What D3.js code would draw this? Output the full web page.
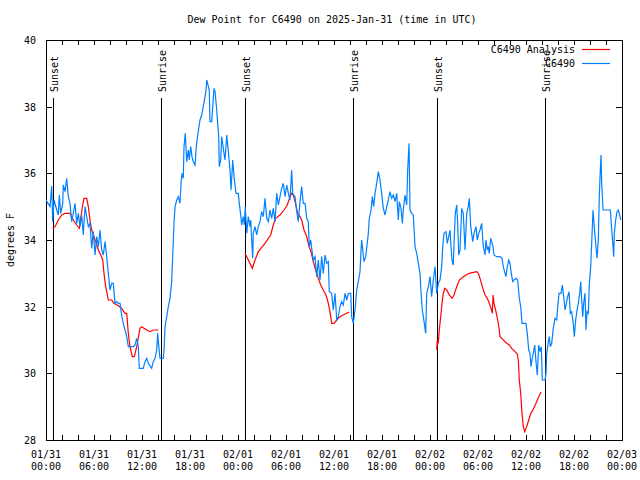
<!DOCTYPE html>
<html>
<head>
<meta charset="utf-8">
<script src="https://cdn.jsdelivr.net/npm/d3@7"></script>
<style>
  html, body { margin: 0; padding: 0; background: #fff; }
  svg { display: block; }
  text { font-family: "DejaVu Sans Mono", "Liberation Mono", monospace; font-size: 10px; fill: #000; }
</style>
</head>
<body>
<svg id="chart" width="640" height="480"></svg>
<script>
// ---- Data (hours since 2025-01-31 00:00 UTC) ----
const titleText = "Dew Point for C6490 on 2025-Jan-31 (time in UTC)";
const yLabel = "degrees F";
const seriesNames = ["C6490 Analysis", "C6490"];

const sunHours = [0.875, 14.375, 24.875, 38.375, 48.875, 62.375];
const sunLabels = ["Sunset", "Sunrise", "Sunset", "Sunrise", "Sunset", "Sunrise"];

const yTicks = [28, 30, 32, 34, 36, 38, 40];

// Station observations (C6490)
const obsHours = [0.0,0.5,0.71,0.84,1.0,1.34,1.54,1.66,1.84,2.09,2.16,2.38,2.59,2.79,3.0,3.21,3.41,3.63,3.84,4.04,4.25,4.46,4.66,4.88,5.09,5.29,5.5,5.71,5.91,6.13,6.34,6.54,6.75,6.96,7.16,7.38,7.59,7.79,8.0,8.21,8.41,8.63,8.84,9.04,9.25,9.46,9.66,10.09,10.29,10.91,11.13,11.34,11.54,11.66,11.96,12.16,12.38,12.59,12.79,13.21,13.41,13.63,13.84,13.96,14.04,14.25,14.66,14.75,14.88,15.09,15.29,15.5,15.71,15.84,16.0,16.13,16.34,16.54,16.75,16.88,17.0,17.16,17.25,17.41,17.59,17.79,17.91,18.09,18.25,18.41,18.63,18.75,18.91,19.09,19.25,19.46,19.66,19.88,20.0,20.09,20.41,20.5,20.71,20.84,21.0,21.13,21.34,21.46,21.59,21.66,21.84,21.96,22.16,22.38,22.59,22.79,23.0,23.13,23.34,23.5,23.75,24.04,24.16,24.34,24.46,24.66,24.79,24.91,25.09,25.29,25.5,25.59,25.71,25.84,25.91,26.13,26.34,26.54,26.75,26.96,27.16,27.38,27.59,27.79,28.0,28.21,28.41,28.63,28.84,29.04,29.25,29.46,29.66,29.88,30.09,30.29,30.5,30.71,30.84,31.13,31.34,31.54,31.75,31.96,32.16,32.38,32.59,32.79,32.91,33.09,33.21,33.41,33.63,33.84,34.04,34.25,34.46,34.66,34.88,35.09,35.29,35.41,35.71,35.91,36.13,36.34,36.54,36.75,36.96,37.16,37.38,37.59,37.79,38.09,38.21,38.41,38.63,38.84,39.04,39.25,39.38,39.46,39.59,39.75,39.96,40.13,40.29,40.41,40.63,40.79,40.96,41.13,41.34,41.54,41.75,41.96,42.16,42.38,42.59,42.79,43.0,43.21,43.41,43.63,43.84,44.04,44.16,44.38,44.54,44.66,44.88,45.09,45.21,45.38,45.5,45.71,45.91,46.13,46.34,46.54,46.75,46.88,47.04,47.29,47.46,47.59,47.79,48.0,48.21,48.41,48.63,48.84,49.04,49.25,49.46,49.59,49.75,50.0,50.16,50.34,50.5,50.63,50.75,50.91,51.04,51.16,51.34,51.46,51.59,51.75,51.96,52.16,52.38,52.59,52.79,52.91,53.09,53.34,53.5,53.75,53.91,54.09,54.25,54.46,54.66,54.88,55.0,55.16,55.29,55.41,55.59,55.84,56.0,56.34,56.75,57.0,57.16,57.38,57.5,57.66,57.84,58.0,58.16,58.34,58.5,58.75,58.96,59.16,59.34,59.5,60.0,60.16,60.34,60.5,60.63,60.75,60.91,61.09,61.25,61.41,61.59,61.75,61.91,62.04,62.38,62.5,62.59,62.79,62.91,63.04,63.21,63.41,63.63,63.84,63.96,64.13,64.38,64.54,64.71,64.88,65.04,65.21,65.38,65.54,65.71,65.91,66.04,66.21,66.38,66.54,66.71,66.84,66.96,67.09,67.21,67.38,67.5,67.63,67.79,67.91,68.09,68.21,68.38,68.5,68.63,68.75,68.88,69.04,69.16,69.29,69.38,69.46,69.63,70.54,70.63,70.75,70.88,70.96,71.04,71.21,71.38,71.54,71.71,71.84];
const obsDewF = [35.2,35.0,35.62,34.55,35.2,34.9,34.75,35.35,34.8,35.1,35.65,35.45,35.85,35.3,35.1,34.55,34.8,35.1,34.5,34.8,34.4,34.75,34.15,35.0,34.7,34.4,34.5,33.75,34.25,33.55,34.1,33.8,34.3,33.7,33.55,33.95,33.5,33.0,32.5,32.7,32.7,32.1,32.15,32.1,32.1,31.75,31.5,31.1,30.8,30.8,30.85,31.05,30.8,30.15,30.15,30.15,30.35,30.45,30.3,30.15,30.35,30.45,30.7,31.2,30.95,30.45,30.45,30.7,31.4,31.7,32.0,32.25,32.75,33.55,34.5,35.0,35.2,35.3,35.1,35.7,36.0,35.85,36.8,37.2,36.35,36.7,36.4,36.8,36.5,36.35,36.25,36.7,37.05,37.35,37.6,37.75,38.0,38.3,38.5,38.8,38.5,37.55,37.55,38.0,38.55,38.45,37.9,37.5,37.1,36.2,36.4,37.1,36.75,36.4,37.15,36.65,36.1,35.5,36.4,35.9,35.4,35.4,35.1,34.75,34.45,34.7,34.45,35.0,34.2,34.7,34.4,34.6,34.0,33.45,34.2,34.4,34.15,34.4,34.55,34.85,34.7,35.25,34.65,34.55,34.9,34.65,34.95,34.55,35.4,35.05,35.3,35.55,35.7,35.3,35.65,35.4,35.2,36.1,35.4,35.3,34.85,34.55,35.15,35.6,35.1,35.1,34.65,34.55,33.8,34.0,33.75,33.4,33.5,32.9,33.4,32.8,33.5,33.0,33.55,33.3,33.35,32.45,32.4,31.9,32.4,31.6,31.7,32.0,32.15,32.05,32.4,32.2,32.4,32.4,31.7,31.5,31.9,32.5,32.75,33.05,33.7,34.0,33.7,33.35,33.5,33.85,34.2,34.65,34.9,35.3,35.0,35.4,35.7,36.05,35.8,35.4,34.95,34.75,35.0,35.2,35.45,35.25,35.35,35.15,35.4,34.6,35.15,34.95,34.5,34.9,35.35,35.05,36.1,36.9,34.9,34.8,34.75,33.8,33.6,33.3,33.0,32.4,31.9,31.5,31.2,32.4,32.6,32.9,32.3,32.8,33.2,32.4,32.7,32.8,33.2,33.8,34.2,34.25,33.9,34.1,34.3,33.8,33.4,33.25,34.1,34.8,35.05,34.5,33.55,33.7,34.95,34.8,33.7,34.8,35.0,35.25,34.4,33.95,34.2,34.4,34.0,34.2,34.3,34.5,33.8,33.55,34.0,33.7,33.8,33.6,34.05,33.85,33.55,33.5,33.5,33.45,33.2,33.0,32.9,33.2,33.4,33.3,33.0,32.75,32.8,32.85,32.8,32.25,32.0,31.5,31.5,31.2,30.7,30.6,30.2,30.4,30.6,30.85,30.35,29.95,30.85,30.65,30.8,29.8,29.8,30.0,30.6,30.95,31.1,30.8,30.9,31.35,31.65,31.6,32.0,32.4,32.4,32.65,32.3,31.9,32.1,32.3,32.45,31.8,31.85,31.5,31.1,31.6,31.9,32.1,32.4,32.75,32.2,31.7,32.1,32.4,31.3,31.85,31.8,32.65,33.2,33.9,34.9,34.5,34.1,33.8,33.45,34.0,35.3,36.1,36.55,35.7,34.9,34.9,34.6,34.2,33.8,33.5,34.2,34.6,34.85,34.9,34.75,34.6];

// Analysis (nighttime segments, null = gap)
const anaHours = [0.84,1.13,1.54,1.96,2.38,3.0,3.41,3.84,4.16,4.34,4.59,4.75,5.09,5.29,5.5,5.71,6.0,6.34,6.54,6.84,7.09,7.25,7.46,7.71,7.79,8.21,8.5,8.91,9.46,9.88,10.09,10.29,10.5,10.79,11.04,11.34,11.75,11.96,12.59,13.0,13.41,14.04,
  null,
  24.88,25.29,25.79,26.13,26.54,26.96,27.38,27.79,28.09,28.41,28.71,29.25,29.75,30.16,30.5,30.71,30.91,31.13,31.41,31.75,31.96,32.25,32.59,32.88,33.13,33.41,33.71,34.04,34.34,34.66,35.0,35.29,35.5,35.71,36.0,36.34,36.75,37.38,37.91,
  null,
  48.84,48.91,49.04,49.16,49.34,49.5,49.66,49.84,50.09,50.41,50.75,51.0,51.34,51.66,52.09,52.5,52.91,53.41,53.84,54.04,54.25,54.54,54.88,55.16,55.41,55.63,55.79,55.88,56.0,56.25,56.46,56.63,56.75,57.09,57.5,57.91,58.21,58.63,58.91,59.04,59.16,59.34,59.5,59.66,59.84,60.09,60.34,60.59,60.91,61.25,61.59,61.88];
const anaDewF = [34.35,34.4,34.6,34.75,34.8,34.8,34.6,34.45,34.35,34.65,35.05,35.25,35.25,35.0,34.6,34.3,34.1,33.85,33.7,33.55,33.4,33.0,32.6,32.3,32.2,32.2,32.1,32.05,31.95,31.8,31.8,31.2,30.8,30.5,30.5,30.8,31.35,31.4,31.3,31.25,31.3,31.3,
  null,
  33.6,33.4,33.15,33.4,33.65,33.78,33.9,34.05,34.15,34.45,34.65,34.75,34.9,35.05,35.3,35.4,35.35,35.15,34.85,34.7,34.6,34.3,34.1,33.8,33.65,33.35,33.1,32.85,32.65,32.5,32.35,32.1,31.85,31.5,31.5,31.6,31.7,31.78,31.84,
  null,
  30.7,31.0,30.9,31.3,31.7,32.1,32.4,32.55,32.5,32.35,32.25,32.35,32.6,32.8,32.88,32.95,33.0,33.03,33.05,33.0,32.85,32.6,32.35,32.25,32.1,31.95,31.8,32.35,32.1,31.85,31.6,31.35,31.1,31.02,30.92,30.85,30.75,30.65,30.58,30.4,29.8,29.4,28.8,28.4,28.25,28.4,28.6,28.8,28.92,29.1,29.3,29.44];

// ---- Drawing ----
const W = 640, H = 480;
const margin = { left: 46, right: 18, top: 40, bottom: 40 };
const x0 = margin.left, x1 = W - margin.right, y0 = margin.top, y1 = H - margin.bottom;

const baseMs = Date.UTC(2025, 0, 31, 0, 0);
const toDate = h => new Date(baseMs + h * 3600e3);

const x = d3.scaleUtc().domain([toDate(0), toDate(72)]).range([x0, x1]);
const y = d3.scaleLinear().domain([28, 40]).range([y1, y0]);

const svg = d3.select("#chart");
const colors = { ana: "#ff0000", obs: "#0080ff" };

svg.append("defs").append("clipPath").attr("id", "clip")
  .append("rect").attr("x", x0).attr("y", y0).attr("width", x1 - x0).attr("height", y1 - y0);

// Title
svg.append("text").attr("x", 332).attr("y", 23).attr("text-anchor", "middle").text(titleText);

// Y label
svg.append("text").attr("transform", `translate(14,${(y0 + y1) / 2}) rotate(-90)`)
  .attr("text-anchor", "middle").text(yLabel);

// Axes (ticks)
const majorX = d3.utcHour.every(6).range(toDate(0), toDate(72.01));
const minorX = d3.utcHour.every(2).range(toDate(0), toDate(72.01));
const fmtDay = d3.utcFormat("%m/%d"), fmtHour = d3.utcFormat("%H:%M");

svg.append("g").attr("transform", `translate(0,${y1})`)
  .call(d3.axisBottom(x).tickValues(minorX).tickSize(-5).tickFormat(""))
  .call(g => g.select(".domain").remove());
svg.append("g").attr("transform", `translate(0,${y0})`)
  .call(d3.axisTop(x).tickValues(minorX).tickSize(-5).tickFormat(""))
  .call(g => g.select(".domain").remove());

const xl = svg.append("g");
majorX.forEach(d => {
  const t = xl.append("text").attr("text-anchor", "middle").attr("x", x(d));
  t.append("tspan").attr("x", x(d)).attr("y", 458).text(fmtDay(d));
  t.append("tspan").attr("x", x(d)).attr("y", 470).text(fmtHour(d));
});

svg.append("g").attr("transform", `translate(${x0},0)`)
  .call(d3.axisLeft(y).tickValues(yTicks).tickSize(-6).tickPadding(10).tickFormat(d3.format("d")))
  .call(g => g.select(".domain").remove())
  .call(g => g.selectAll("text").attr("dy", "0.35em").style("font-family", '"DejaVu Sans Mono", monospace').style("font-size", "10px"));
svg.append("g").attr("transform", `translate(${x1},0)`)
  .call(d3.axisRight(y).tickValues(yTicks).tickSize(-6).tickFormat(""))
  .call(g => g.select(".domain").remove());

svg.selectAll(".tick line").attr("stroke", "#000").attr("shape-rendering", "crispEdges");

// Border
svg.append("rect").attr("x", x0).attr("y", y0).attr("width", x1 - x0).attr("height", y1 - y0)
  .attr("fill", "none").attr("stroke", "#000").attr("shape-rendering", "crispEdges");

// Sunrise / sunset markers
const sun = svg.append("g");
sunHours.forEach((h, i) => {
  const sx = Math.round(x(toDate(h)));
  sun.append("line").attr("x1", sx).attr("x2", sx).attr("y1", y0 + 58).attr("y2", y1)
    .attr("stroke", "#000").attr("stroke-width", 1).attr("shape-rendering", "crispEdges");
  sun.append("text").attr("transform", `translate(${sx + 5},${y0 + 52}) rotate(-90)`)
    .attr("text-anchor", "start").text(sunLabels[i]);
});

// Data lines
const plot = svg.append("g").attr("clip-path", "url(#clip)");
const lineGen = d3.line()
  .defined(d => d[0] !== null && d[1] !== null)
  .x(d => x(toDate(d[0]))).y(d => y(d[1]));

const anaPts = anaHours.map((h, i) => [h, anaDewF[i]]);
const obsPts = obsHours.map((h, i) => [h, obsDewF[i]]);

plot.append("path").datum(anaPts).attr("d", lineGen)
  .attr("fill", "none").attr("stroke", colors.ana).attr("stroke-width", 1.2);
plot.append("path").datum(obsPts).attr("d", lineGen)
  .attr("fill", "none").attr("stroke", colors.obs).attr("stroke-width", 1.2);

// Legend
const legend = svg.append("g");
const legendRows = [
  { name: seriesNames[0], color: colors.ana, base: 53 },
  { name: seriesNames[1], color: colors.obs, base: 67 }
];
legendRows.forEach(r => {
  legend.append("text").attr("x", 575).attr("y", r.base).attr("text-anchor", "end").text(r.name);
  legend.append("line").attr("x1", 582).attr("x2", 610).attr("y1", r.base - 3.5).attr("y2", r.base - 3.5)
    .style("stroke", r.color).style("stroke-width", "1.2px");
});
</script>
</body>
</html>
